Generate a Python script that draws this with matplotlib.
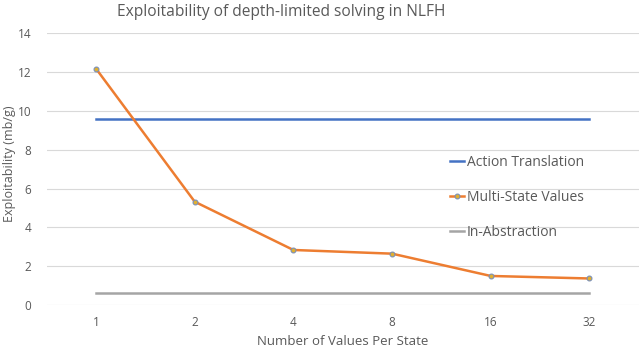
import matplotlib.pyplot as plt
import numpy as np

# chart data
categories = ['1', '2', '4', '8', '16', '32']
action_translation = [9.6, 9.6, 9.6, 9.6, 9.6, 9.6]
multi_state = [12.18, 5.32, 2.83, 2.64, 1.49, 1.36]
in_abstraction = [0.6, 0.6, 0.6, 0.6, 0.6, 0.6]
y_ticks = [0, 2, 4, 6, 8, 10, 12, 14]

TEXT = '#595959'
plt.rcParams['font.family'] = ['Open Sans', 'DejaVu Sans']

fig = plt.figure(figsize=(6.4, 3.48), dpi=100)
ax = fig.add_axes([0.073, 0.124, 0.925, 0.78])

x = np.arange(len(categories))
ax.plot(x, action_translation, color='#4472C4', linewidth=1.8, label='Action Translation')
ax.plot(x, multi_state, color='#ED7D31', linewidth=1.8, marker='o', markersize=3.5,
        markerfacecolor='#E0B030', markeredgecolor='#7A8FB8', markeredgewidth=0.8,
        label='Multi-State Values')
ax.plot(x, in_abstraction, color='#A5A5A5', linewidth=1.8, label='In-Abstraction')

ax.set_xlim(-0.5, len(categories) - 0.5)
ax.set_ylim(0, 14)
ax.set_xticks(x)
ax.set_xticklabels(categories)
ax.set_yticks(y_ticks)
ax.grid(axis='y', color='#D9D9D9', linewidth=0.8)
ax.set_axisbelow(True)
for s in ax.spines.values():
    s.set_visible(False)
ax.tick_params(length=0, colors=TEXT, labelsize=8.5, pad=8)
ax.tick_params(axis='y', pad=11)

ax.set_xlabel('Number of Values Per State', color=TEXT, fontsize=9.5, labelpad=4)
fig.text(10 / 640, 0.53, 'Exploitability (mb/g)', rotation=90, ha='center', va='center',
         color=TEXT, fontsize=9)
fig.text(0.44, 0.965, 'Exploitability of depth-limited solving in NLFH',
         ha='center', va='center', color=TEXT, fontsize=11.2)

leg = ax.legend(loc='center left', bbox_to_anchor=(0.66, 0.395), frameon=False,
                fontsize=10, labelcolor=TEXT, handlelength=1.0, handletextpad=0.2,
                labelspacing=1.45)

fig.savefig('out.png', dpi=100)
